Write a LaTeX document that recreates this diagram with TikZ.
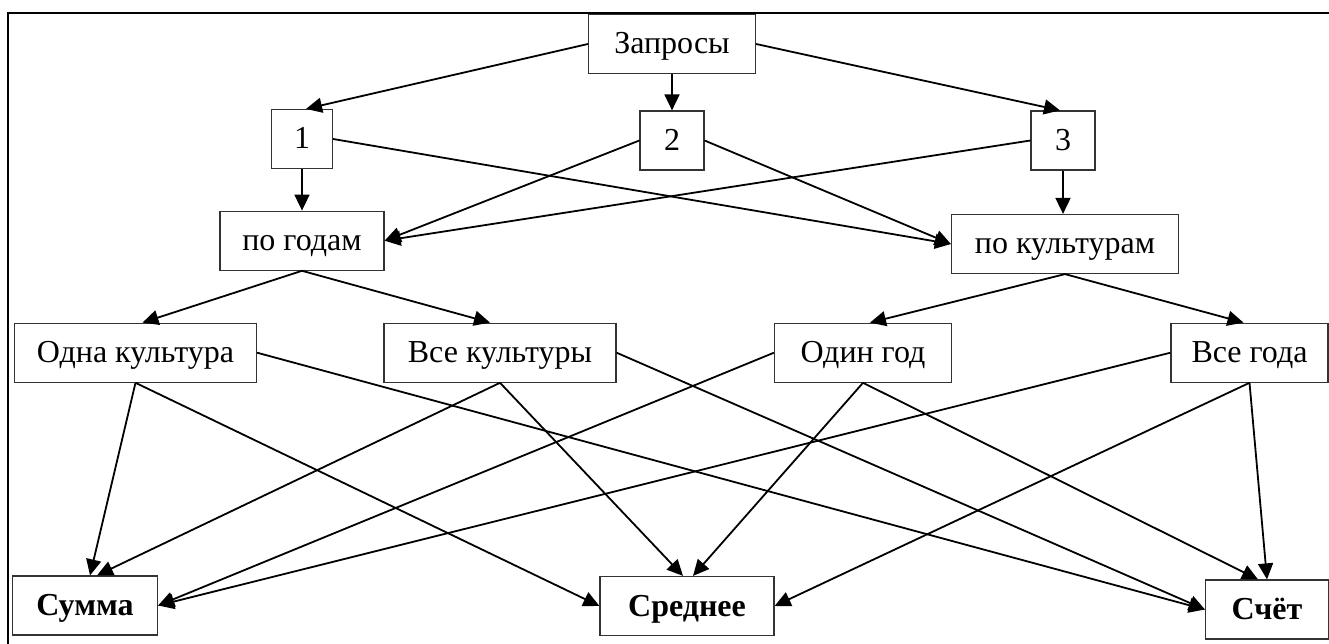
\documentclass[tikz,border=0pt]{standalone}
\usepackage{fontspec}
\setmainfont{Liberation Serif}
\usetikzlibrary{arrows.meta}

\begin{document}
\begin{tikzpicture}[x=1pt,y=-1pt,
    >={Triangle[length=16pt,width=15pt]},
    box/.style={draw=black!80,line width=1.2pt,inner sep=0pt,text height=22pt,text depth=2pt,
        font=\fontsize{32}{38}\selectfont},
    res/.style={box,font=\fontsize{32}{38}\selectfont\bfseries},
    every path/.style={line width=1.8pt}]
    \useasboundingbox (0,0) rectangle (1329,644);
    % frame
    \draw[line width=2.4pt] (8,644) -- (8,13) -- (1329,13);

    % nodes
    \node[box,minimum width=167pt,minimum height=59pt] (q) at (672,44) {Запросы};
    \node[box,minimum width=61pt,minimum height=59pt] (n1) at (302,139) {1};
    \node[box,minimum width=64pt,minimum height=59pt] (n2) at (672,140.5) {2};
    \node[box,minimum width=64pt,minimum height=59pt] (n3) at (1063,140.5) {3};
    \node[box,minimum width=164pt,minimum height=59pt] (pg) at (302,240.7) {по годам};
    \node[box,minimum width=227pt,minimum height=59pt] (pk) at (1065,244) {по культурам};
    \node[box,minimum width=242pt,minimum height=59pt] (ok) at (135.5,352.7) {Одна культура};
    \node[box,minimum width=232pt,minimum height=59pt] (vk) at (500,352.7) {Все культуры};
    \node[box,minimum width=177pt,minimum height=59pt] (og) at (863,352.7) {Один год};
    \node[box,minimum width=157pt,minimum height=59pt] (vg) at (1249.5,352.7) {Все года};
    \node[res,minimum width=145pt,minimum height=59pt] (sum) at (85,605.5) {Сумма};
    \node[res,minimum width=174pt,minimum height=59pt] (sr) at (687,606) {Среднее};
    \node[res,minimum width=123pt,minimum height=59pt] (sch) at (1267,609.5) {Счёт};

    % queries
    \draw[->] (q.west) -- ([xshift=4pt]n1.north);
    \draw[->] (q.south) -- (n2.north);
    \draw[->] (q.east) -- ([xshift=-3pt]n3.north);

    \draw[->] (n1.south) -- (pg.north);
    \draw[->] (n1.east) -- (pk.west);
    \draw[->] (n2.west) -- (pg.east);
    \draw[->] (n2.east) -- (pk.west);
    \draw[->] (n3.west) -- (pg.east);
    \draw[->] (n3.south) -- ([xshift=-2pt]pk.north);

    \draw[->] (pg.south) -- ([xshift=7pt]ok.north);
    \draw[->] (pg.south) -- ([xshift=-10pt]vk.north);
    \draw[->] (pk.south) -- ([xshift=7pt]og.north);
    \draw[->] (pk.south) -- ([xshift=-6pt]vg.north);

    % results
    \draw[->] (ok.south) -- ([xshift=5pt]sum.north);
    \draw[->] (ok.south) -- (sr.west);
    \draw[->] (ok.east) -- (sch.west);
    \draw[->] (vk.south) -- ([xshift=12pt]sum.north);
    \draw[->] (vk.south) -- ([xshift=-4pt]sr.north);
    \draw[->] (vk.east) -- (sch.west);
    \draw[->] (og.west) -- (sum.east);
    \draw[->] (og.south) -- ([xshift=6pt]sr.north);
    \draw[->] (og.south) -- ([xshift=-9pt]sch.north);
    \draw[->] (vg.west) -- (sum.east);
    \draw[->] (vg.south) -- (sr.east);
    \draw[->] (vg.south) -- (sch.north);
\end{tikzpicture}
\end{document}
